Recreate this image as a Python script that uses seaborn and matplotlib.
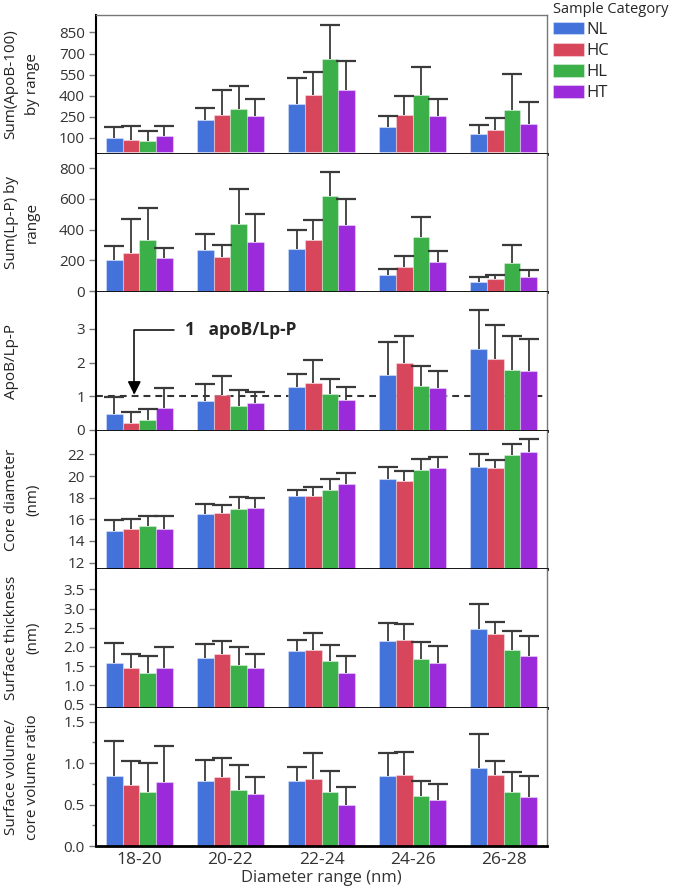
import numpy as np
import pandas as pd
import matplotlib
matplotlib.use('Agg')
import matplotlib.pyplot as plt
from matplotlib.ticker import MultipleLocator, FormatStrFormatter
import seaborn as sns

sns.set_style('white')
plt.rcParams['font.family'] = ['Open Sans', 'DejaVu Sans']

ranges = ['18-20', '20-22', '22-24', '24-26', '26-28']
categories = ['NL', 'HC', 'HL', 'HT']
colors = ['#4472DB', '#D7465A', '#3BAF48', '#9B2BDA']

# bar height (mean) and top of the error bar, per category, in range order
apob_mean = {'NL': [100, 226, 340, 176, 124], 'HC': [85, 266, 406, 266, 154],
             'HL': [76, 306, 660, 406, 299], 'HT': [110, 259, 439, 252, 199]}
apob_upper = {'NL': [178, 313, 525, 256, 195], 'HC': [185, 437, 567, 401, 242],
              'HL': [150, 470, 900, 605, 553], 'HT': [185, 380, 645, 373, 356]}

lpp_mean = {'NL': [203, 270, 273, 106, 60], 'HC': [251, 221, 335, 158, 78],
            'HL': [331, 439, 617, 351, 182], 'HT': [215, 322, 429, 188, 91]}
lpp_upper = {'NL': [292, 374, 396, 147, 91], 'HC': [469, 300, 461, 229, 106],
             'HL': [543, 662, 773, 484, 299], 'HT': [279, 502, 599, 264, 140]}

ratio_mean = {'NL': [0.45, 0.86, 1.26, 1.63, 2.39], 'HC': [0.21, 1.02, 1.38, 1.98, 2.10],
              'HL': [0.28, 0.70, 1.05, 1.30, 1.79], 'HT': [0.65, 0.79, 0.87, 1.23, 1.76]}
ratio_upper = {'NL': [0.98, 1.36, 1.67, 2.60, 3.58], 'HC': [0.51, 1.60, 2.07, 2.80, 3.13],
               'HL': [0.60, 1.18, 1.50, 1.90, 2.79], 'HT': [1.25, 1.11, 1.27, 1.75, 2.70]}

core_mean = {'NL': [14.90, 16.51, 18.18, 19.75, 20.82], 'HC': [15.12, 16.54, 18.11, 19.50, 20.77],
             'HL': [15.36, 16.97, 18.69, 20.58, 21.94], 'HT': [15.12, 17.06, 19.29, 20.73, 22.25]}
core_upper = {'NL': [15.92, 17.37, 18.73, 20.82, 22.00], 'HC': [16.00, 17.34, 19.00, 20.45, 21.47],
              'HL': [16.35, 18.05, 19.69, 21.54, 22.93], 'HT': [16.35, 17.93, 20.30, 21.79, 23.42]}

surf_mean = {'NL': [1.59, 1.71, 1.90, 2.15, 2.46], 'HC': [1.45, 1.81, 1.91, 2.17, 2.34],
             'HL': [1.31, 1.52, 1.64, 1.69, 1.93], 'HT': [1.45, 1.46, 1.32, 1.57, 1.76]}
surf_upper = {'NL': [2.09, 2.08, 2.19, 2.63, 3.11], 'HC': [1.81, 2.15, 2.37, 2.60, 2.65],
              'HL': [1.77, 1.99, 2.05, 2.12, 2.42], 'HT': [2.00, 1.81, 1.77, 2.03, 2.28]}

vol_mean = {'NL': [0.85, 0.79, 0.79, 0.84, 0.94], 'HC': [0.73, 0.83, 0.81, 0.86, 0.86],
            'HL': [0.65, 0.67, 0.65, 0.60, 0.65], 'HT': [0.77, 0.63, 0.49, 0.55, 0.59]}
vol_upper = {'NL': [1.27, 1.04, 0.95, 1.12, 1.35], 'HC': [1.02, 1.06, 1.12, 1.13, 1.03],
             'HL': [1.00, 0.98, 0.91, 0.79, 0.89], 'HT': [1.21, 0.83, 0.71, 0.75, 0.84]}

panels = [
    ('Sum(ApoB-100)\nby range', apob_mean, apob_upper, (-12, 973), [100, 250, 400, 550, 700, 850], None),
    ('Sum(Lp-P) by\nrange', lpp_mean, lpp_upper, (-6, 895), [0, 200, 400, 600, 800], None),
    ('ApoB/Lp-P', ratio_mean, ratio_upper, (-0.03, 4.1), [0, 1, 2, 3], None),
    ('Core diameter\n(nm)', core_mean, core_upper, (11.4, 24.2), [12, 14, 16, 18, 20, 22], None),
    ('Surface thickness\n(nm)', surf_mean, surf_upper, (0.42, 4.03), [0.5, 1, 1.5, 2, 2.5, 3, 3.5], '%.1f'),
    ('Surface volume/\ncore volume ratio', vol_mean, vol_upper, (0, 1.67), [0, 0.5, 1, 1.5], '%.1f'),
]

fig, axes = plt.subplots(6, 1, figsize=(6.84, 8.9), dpi=100, sharex=True)
fig.subplots_adjust(left=0.1404, right=0.7997, top=0.983, bottom=0.0494, hspace=0)

for i, (ax, (label, mean, upper, ylim, ticks, fmt)) in enumerate(zip(axes, panels)):
    rows = []
    for cat in categories:
        for r, m in zip(ranges, mean[cat]):
            rows.append({'range': r, 'category': cat, 'value': m})
    df = pd.DataFrame(rows)

    sns.barplot(data=df, x='range', y='value', hue='category', order=ranges,
                hue_order=categories, palette=colors, errorbar=None, width=0.73,
                saturation=1, edgecolor=(1, 1, 1, 0.35), linewidth=0.8,
                legend=(i == 0), ax=ax, zorder=2)

    # one-sided error bars: only the upper cap is kept
    for container, cat in zip(ax.containers, categories):
        xs = [b.get_x() + b.get_width() / 2 for b in container]
        m = np.array(mean[cat])
        up = np.array(upper[cat])
        eb = ax.errorbar(xs, m, yerr=[np.zeros_like(m), up - m], fmt='none',
                         ecolor='#3a3a3a', elinewidth=1.3, capsize=7.5, capthick=1.6, zorder=3)
        eb[1][0].set_visible(False)

    ax.set_ylim(*ylim)
    ax.set_yticks(ticks)
    if fmt:
        ax.yaxis.set_major_formatter(FormatStrFormatter(fmt))
    ax.set_xlim(-0.475, 4.475)
    ax.set_ylabel(label, fontsize=11, linespacing=1.6, va='top', ha='center', color='#222222')
    ax.yaxis.set_label_coords(-0.205, 0.5)
    ax.set_xlabel('')
    ax.tick_params(axis='y', left=True, length=5, width=1, color='#777777',
                   labelcolor='#333333', labelsize=11, pad=3)
    ax.tick_params(axis='x', length=0, labelsize=12.5, labelcolor='#333333', pad=4)

    ax.spines['bottom'].set_color('black')
    ax.spines['bottom'].set_linewidth(2)
    ax.spines['left'].set_color('black')
    ax.spines['left'].set_linewidth(1.5)
    ax.spines['right'].set_color('#777777')
    ax.spines['right'].set_linewidth(1)
    if i == 0:
        ax.spines['top'].set_color('#777777')
        ax.spines['top'].set_linewidth(1)
    else:
        ax.spines['top'].set_visible(False)

# reference line and note on the ApoB/Lp-P panel
ax3 = axes[2]
ax3.axhline(1, color='#333333', lw=1.5, ls=(0, (3.3, 2.4)), zorder=1)
ax3.annotate('', xy=(-0.055, 1.04), xytext=(0.38, 2.96),
             arrowprops=dict(arrowstyle='-|>,head_length=0.5,head_width=0.25',
                             connectionstyle='angle,angleA=0,angleB=90,rad=0',
                             color='black', lw=1.1, shrinkA=0, shrinkB=0, mutation_scale=16))
ax3.text(0.5, 2.96, '1   apoB/Lp-P', fontsize=12.5, fontweight='bold', va='center', ha='left')

axes[5].yaxis.set_minor_locator(MultipleLocator(0.25))
axes[5].tick_params(axis='y', which='minor', left=True, length=3, width=1, color='#777777')
axes[5].set_xlabel('Diameter range (nm)', fontsize=12, color='#333333', labelpad=2)

handles, labels = axes[0].get_legend_handles_labels()
axes[0].get_legend().remove()
fig.legend(handles, labels, title='Sample Category', loc='upper left',
           bbox_to_anchor=(551 / 684, 1.0), frameon=False, fontsize=12,
           title_fontsize=10.5, handlelength=1.9, handleheight=0.8, handletextpad=0.15,
           labelspacing=0.3, borderaxespad=0, borderpad=0.1, alignment='left')

fig.savefig('out.png', dpi=100)
